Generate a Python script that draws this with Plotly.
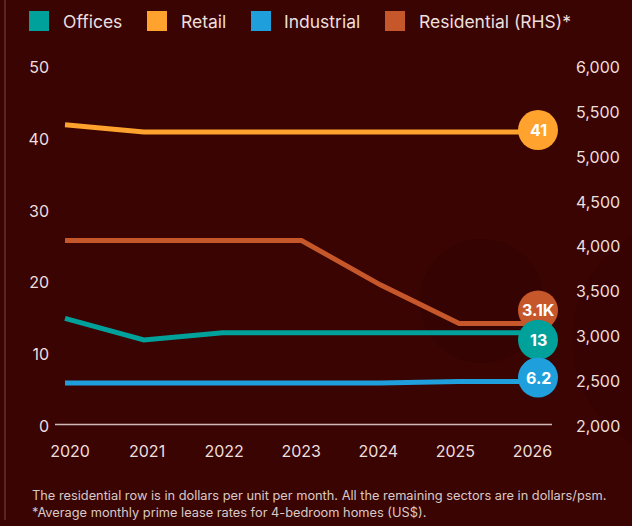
import plotly.graph_objects as go

# ---- data -------------------------------------------------------------
years = [2020, 2021, 2022, 2023, 2024, 2025, 2026]
offices = [15, 12, 13, 13, 13, 13, 13]
retail = [42, 41, 41, 41, 41, 41, 41]
industrial = [6.0, 6.0, 6.0, 6.0, 6.0, 6.2, 6.2]
residential = [4070, 4070, 4070, 4070, 3575, 3145, 3145]

series_names = ["Offices", "Retail", "Industrial", "Residential (RHS)*"]
end_labels = ["13", "41", "6.2", "3.1K"]

left_ticks = [0, 10, 20, 30, 40, 50]
right_ticks = [2000, 2500, 3000, 3500, 4000, 4500, 5000, 5500, 6000]

footnote = ("The residential row is in dollars per unit per month. All the remaining sectors are in dollars/psm.<br>"
            "*Average monthly prime lease rates for 4-bedroom homes (US$).")

# ---- styling ----------------------------------------------------------
BG = "#3a0402"
TXT = "#eddfdd"
FONT = "Inter"
C_OFF, C_RET, C_IND, C_RES = "#00a19a", "#ffa22e", "#1f9fdc", "#c5572a"

W, H = 632, 526
L, R, T, B = 55, 562, 60, 426          # plot area in page pixels
BASE_END = 552                          # right end of the baseline rule


def px(x):
    return (x - L) / (R - L)


def py(y):
    return (B - y) / (B - T)


fig = go.Figure()

for name, vals, col, axis in [
    ("Residential (RHS)*", residential, C_RES, "y2"),
    ("Retail", retail, C_RET, "y"),
    ("Offices", offices, C_OFF, "y"),
    ("Industrial", industrial, C_IND, "y"),
]:
    fig.add_trace(go.Scatter(
        x=years, y=vals, name=name, mode="lines", yaxis=axis,
        line=dict(color=col, width=5), showlegend=False,
        hovertemplate="%{x}: %{y}<extra>" + name + "</extra>",
    ))

# empty trace carrying the year labels axis
fig.add_trace(go.Scatter(x=years, y=[None] * len(years), xaxis="x2",
                         showlegend=False, hoverinfo="skip"))

shapes = []
annotations = []

# decorative background discs
shapes.append(dict(type="circle", xref="paper", yref="paper", layer="below",
                   x0=px(420), x1=px(544), y0=py(363), y1=py(239),
                   fillcolor="#350302", line_width=0))
shapes.append(dict(type="circle", xref="paper", yref="paper", layer="below",
                   x0=px(572), x1=px(812), y0=py(460), y1=py(220),
                   fillcolor="#370302", line_width=0))
# thin rule on the left edge
shapes.append(dict(type="line", xref="paper", yref="paper",
                   x0=px(5), x1=px(5), y0=py(0), y1=py(520),
                   line=dict(color="#63302d", width=1.5)))
# baseline along the bottom of the plot
shapes.append(dict(type="line", xref="paper", yref="paper", layer="below",
                   x0=px(L), x1=px(BASE_END), y0=py(424.5), y1=py(424.5),
                   line=dict(color="#cdb9b6", width=1.5)))

# custom legend: squares + labels
leg_sq_x = [29, 147, 251, 385]
leg_txt_x = [61, 179, 282, 417]
for name, col, sx, tx in zip(series_names, [C_OFF, C_RET, C_IND, C_RES], leg_sq_x, leg_txt_x):
    shapes.append(dict(type="rect", xref="paper", yref="paper",
                       x0=px(sx), x1=px(sx + 20), y0=py(31), y1=py(11),
                       fillcolor=col, line_width=0))
    annotations.append(dict(xref="paper", yref="paper", x=px(tx), y=py(21),
                            xanchor="left", yanchor="middle", showarrow=False,
                            text=name, font=dict(family=FONT, size=17.5, color=TXT)))

# end-of-line value bubbles (order: residential, retail, offices, industrial)
bubbles = [
    (residential[-1], "y2", C_RES, end_labels[3], 13),
    (retail[-1], "y", C_RET, end_labels[1], 2),
    (offices[-1], "y", C_OFF, end_labels[0], -7),
    (industrial[-1], "y", C_IND, end_labels[2], 4),
]
for val, yref, col, lab, shift in bubbles:
    shapes.append(dict(type="circle", xref="x", yref=yref, layer="above",
                       xsizemode="pixel", ysizemode="pixel",
                       xanchor=years[-1], yanchor=val,
                       x0=-20, x1=20, y0=shift - 20, y1=shift + 20,
                       fillcolor=col, line_width=0))
    annotations.append(dict(xref="x", yref=yref, x=years[-1], y=val, yshift=shift,
                            text="<b>" + lab + "</b>", showarrow=False,
                            font=dict(family=FONT, size=16, color="white")))

# footnote
annotations.append(dict(xref="paper", yref="paper", x=px(30), y=py(486),
                        xanchor="left", yanchor="top", align="left", showarrow=False,
                        text=footnote, font=dict(family=FONT, size=12.8, color="#d9c9c7")))

x_per_year_data = (538 - 65) / 6
x_per_year_ticks = (532.5 - 70) / 6
y_per_unit = (426 - 67.5) / 50
y2_per_unit = (426 - 67.5) / 4000

fig.update_layout(
    width=W, height=H,
    margin=dict(l=L, r=W - R, t=T, b=H - B, pad=0),
    paper_bgcolor=BG, plot_bgcolor="rgba(0,0,0,0)",
    font=dict(family=FONT, color=TXT, size=16),
    showlegend=False,
    xaxis=dict(range=[2020 - (65 - L) / x_per_year_data, 2026 + (R - 538) / x_per_year_data],
               showgrid=False, zeroline=False, showticklabels=False, ticks="",
               showline=False, fixedrange=True),
    xaxis2=dict(overlaying="x", anchor="y", side="bottom",
                range=[2020 - (70 - L) / x_per_year_ticks, 2026 + (R - 532.5) / x_per_year_ticks],
                tickvals=years, ticktext=[str(y) for y in years],
                showgrid=False, zeroline=False, showline=False, ticks="",
                ticklabelstandoff=14, tickfont=dict(family=FONT, size=16, color=TXT)),
    yaxis=dict(range=[0, 50 + (67.5 - T) / y_per_unit],
               tickvals=left_ticks, showgrid=False, zeroline=False, ticks="",
               ticklabelstandoff=5, tickfont=dict(family=FONT, size=16, color=TXT)),
    yaxis2=dict(overlaying="y", side="right",
                range=[2000, 6000 + (67.5 - T) / y2_per_unit],
                tickvals=right_ticks, tickformat=",", showgrid=False, zeroline=False,
                ticks="", ticklabelstandoff=13, tickfont=dict(family=FONT, size=16, color=TXT)),
    shapes=shapes,
    annotations=annotations,
)

fig.write_html("out.html")
